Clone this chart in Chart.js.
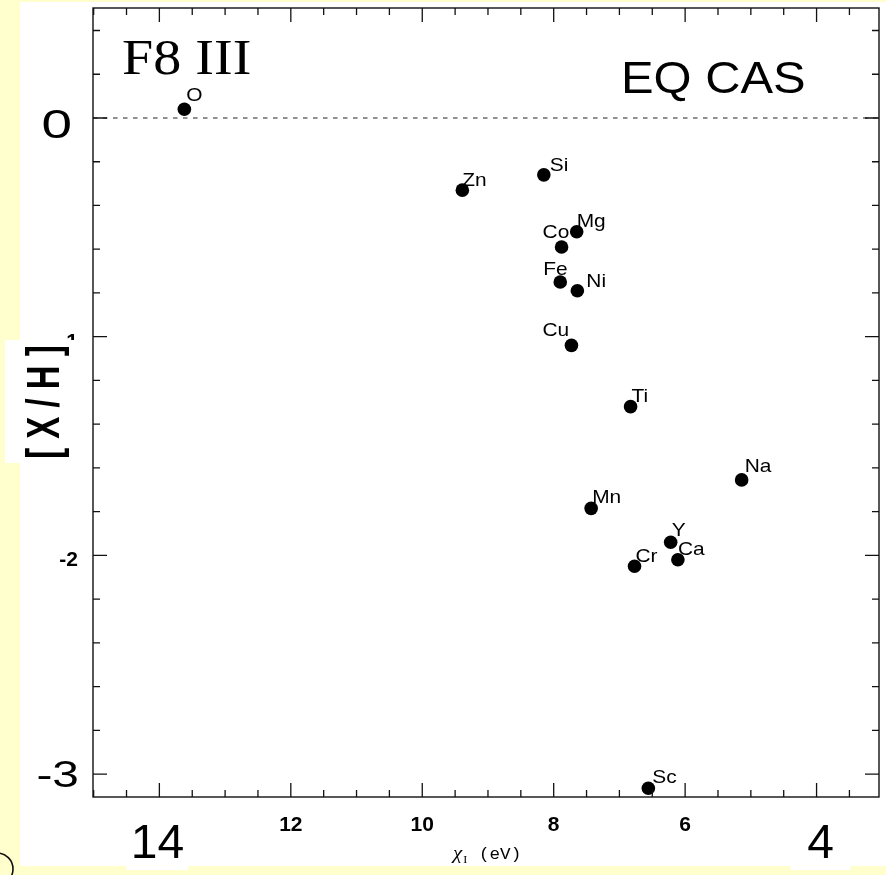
<!DOCTYPE html>
<html>
<head>
<meta charset="utf-8">
<title>EQ CAS abundances vs ionization potential</title>
<script src="https://cdn.jsdelivr.net/npm/chart.js@4.4.1/dist/chart.umd.min.js"></script>
<style>
  html, body { margin: 0; padding: 0; background: #ffffcd; }
  canvas { display: block; }
</style>
</head>
<body>
<canvas id="chart" width="886" height="875"></canvas>
<script>
// Element abundances [X/H] against first ionization potential (eV)
const elements   = ['O', 'Zn', 'Si', 'Mg', 'Co', 'Fe', 'Ni', 'Cu', 'Ti', 'Na', 'Mn', 'Y', 'Ca', 'Cr', 'Sc'];
const ionization = [13.62, 9.39, 8.15, 7.65, 7.88, 7.90, 7.64, 7.73, 6.83, 5.14, 7.43, 6.22, 6.11, 6.77, 6.56];
const abundance  = [0.04, -0.33, -0.26, -0.52, -0.59, -0.75, -0.79, -1.04, -1.32, -1.655, -1.785, -1.94, -2.02, -2.05, -3.065];

// Axis tick labels
const xTickValues = [14, 12, 10, 8, 6, 4];
const xTickLabels = ['14', '12', '10', '8', '6', '4'];
const yTickValues = [0, -1, -2, -3];
const yTickLabels = ['0', '-1', '-2', '-3'];

// Reference level
const solarLevel = 0;

// Titles
const starClass = 'F8 III';
const starName = 'EQ CAS';
const yTitle = '[ X / H ]';
const xTitleSymbol = 'χ';
const xTitleSub = 'I';
const xTitleUnit = '(eV)';

// ---- layout / style ----
const PAPER = '#ffffcd';
const INK = '#000000';
const labelOffsets = {            // text anchor relative to the marker centre
  O: [2, -8], Zn: [0, -4], Si: [6, -4], Mg: [0, -5], Co: [-19, -9], Fe: [-17, -7],
  Ni: [9, -4], Cu: [-29, -9], Ti: [1, -5], Na: [3, -8], Mn: [1, -5], Y: [1, -6],
  Ca: [0, -5], Cr: [1, -4], Sc: [4, -5]
};
const xTickStyleDefault = { size: 20, weight: 'bold', sx: 1.05, base: 34, dx: 0 };
const xTickStyle = {
  '14': { size: 48, weight: 'normal', sx: 1, base: 61, dx: -2, box: 62 },
  '4':  { size: 48, weight: 'normal', sx: 1, base: 61, dx: 4, box: 60 }
};
const yTickStyleDefault = { size: 20, weight: 'bold', sx: 1.05, gap: 15, dy: 11 };
const yTickStyle = {
  '0':  { size: 40, weight: 'normal', sx: 1.37, gap: 21, dy: 20 },
  '-3': { size: 36, weight: 'normal', sx: 1.33, gap: 14, dy: 13 }
};

const points = elements.map((e, i) => ({ x: ionization[i], y: abundance[i] }));

function drawText(ctx, text, x, y, font, align, sx) {
  ctx.save();
  ctx.font = font;
  ctx.textAlign = 'left';
  ctx.textBaseline = 'alphabetic';
  const w = ctx.measureText(text).width * sx;
  const left = align === 'center' ? x - w / 2 : (align === 'right' ? x - w : x);
  ctx.translate(left, y);
  ctx.scale(sx, 1);
  ctx.fillStyle = INK;
  ctx.fillText(text, 0, 0);
  ctx.restore();
  return w;
}

const decor = {
  id: 'decor',
  beforeDraw(chart) {
    const ctx = chart.ctx;
    const xs = chart.scales.x;
    ctx.save();
    ctx.fillStyle = PAPER;
    ctx.fillRect(0, 0, chart.width, chart.height);
    ctx.fillStyle = '#ffffff';
    ctx.fillRect(20, 2, chart.width - 20, 864);
    // white plates behind the large end labels of the x axis
    xTickValues.forEach((v, i) => {
      const st = xTickStyle[xTickLabels[i]];
      if (st && st.box) {
        const px = xs.getPixelForValue(v) + st.dx;
        ctx.fillRect(px - st.box / 2, 812, st.box, 58);
      }
    });
    // small ring in the lower-left corner
    ctx.strokeStyle = '#111';
    ctx.lineWidth = 1.6;
    ctx.beginPath();
    ctx.arc(-3, 869, 16, 0, Math.PI * 2);
    ctx.stroke();
    ctx.restore();
  },
  beforeDatasetsDraw(chart) {
    const ctx = chart.ctx;
    const meta = chart.getDatasetMeta(0);
    meta.data.forEach((pt, i) => {
      const off = labelOffsets[elements[i]] || [2, -5];
      drawText(ctx, elements[i], pt.x + off[0], pt.y + off[1], '19px "Liberation Sans", Arial, sans-serif', 'left', 1.1);
    });
  },
  afterDatasetsDraw(chart) {
    const ctx = chart.ctx;
    const a = chart.chartArea;
    const xs = chart.scales.x, ys = chart.scales.y;
    ctx.save();
    // frame
    ctx.strokeStyle = '#111';
    ctx.lineWidth = 1.4;
    ctx.strokeRect(a.left, a.top, a.right - a.left, a.bottom - a.top);
    // inward ticks, x: every 0.5 eV, long every 2 eV
    ctx.lineWidth = 1.3;
    ctx.beginPath();
    for (let k = Math.ceil(xs.min * 2); k <= Math.floor(xs.max * 2); k++) {
      const px = xs.getPixelForValue(k / 2);
      const len = (k % 4 === 0) ? 14 : 7;
      ctx.moveTo(px, a.bottom); ctx.lineTo(px, a.bottom - len);
      ctx.moveTo(px, a.top); ctx.lineTo(px, a.top + len);
    }
    // inward ticks, y: every 0.2, long every 1
    for (let k = Math.ceil(ys.min * 5); k <= Math.floor(ys.max * 5); k++) {
      const py = ys.getPixelForValue(k / 5);
      const len = (k % 5 === 0) ? 14 : 7;
      ctx.moveTo(a.left, py); ctx.lineTo(a.left + len, py);
      ctx.moveTo(a.right, py); ctx.lineTo(a.right - len, py);
    }
    ctx.stroke();
    ctx.restore();

    // x tick labels
    xTickValues.forEach((v, i) => {
      const st = Object.assign({}, xTickStyleDefault, xTickStyle[xTickLabels[i]] || {});
      const px = xs.getPixelForValue(v) + st.dx;
      drawText(ctx, xTickLabels[i], px, a.bottom + st.base,
        st.weight + ' ' + st.size + 'px "Liberation Sans", Arial, sans-serif', 'center', st.sx);
    });
    // y tick labels
    yTickValues.forEach((v, i) => {
      const st = Object.assign({}, yTickStyleDefault, yTickStyle[yTickLabels[i]] || {});
      const py = ys.getPixelForValue(v);
      drawText(ctx, yTickLabels[i], a.left - st.gap, py + st.dy,
        st.weight + ' ' + st.size + 'px "Liberation Sans", Arial, sans-serif', 'right', st.sx);
    });

    // y title on its own white plate
    ctx.save();
    ctx.fillStyle = '#ffffff';
    ctx.fillRect(5, 340, 78, 123);
    ctx.translate(59, 402);
    ctx.scale(1.42, 1);
    ctx.rotate(-Math.PI / 2);
    ctx.font = 'bold 33px "Liberation Sans", Arial, sans-serif';
    ctx.textAlign = 'center';
    ctx.textBaseline = 'alphabetic';
    ctx.fillStyle = INK;
    ctx.fillText(yTitle, 0, 0);
    ctx.restore();

    // x title: chi_I (eV)
    const xt = 453;
    const w1 = drawText(ctx, xTitleSymbol, xt, 859, 'italic 19px "Liberation Serif", "DejaVu Serif", serif', 'left', 1.1);
    drawText(ctx, xTitleSub, xt + w1 + 1, 863, '11px "Liberation Serif", "DejaVu Serif", serif', 'left', 1.1);
    drawText(ctx, xTitleUnit, 479, 859, '16px "Liberation Mono", "DejaVu Sans Mono", monospace', 'left', 1.1);

    // panel annotations
    drawText(ctx, starClass, 122, 74, '51px "Liberation Serif", "DejaVu Serif", serif', 'left', 1.1);
    drawText(ctx, starName, 621, 93, '44px "Liberation Sans", Arial, sans-serif', 'left', 1.11);
  }
};

new Chart(document.getElementById('chart'), {
  type: 'scatter',
  data: {
    datasets: [
      {
        label: '[X/H]',
        data: points,
        pointRadius: 6.8,
        pointHoverRadius: 6.8,
        backgroundColor: INK,
        borderColor: INK,
        borderWidth: 0
      },
      {
        type: 'line',
        label: 'solar',
        data: [{ x: 15.01, y: solarLevel }, { x: 3.05, y: solarLevel }],
        borderColor: '#222',
        borderWidth: 1.1,
        borderDash: [4.5, 5.5],
        pointRadius: 0,
        fill: false
      }
    ]
  },
  options: {
    responsive: false,
    animation: false,
    devicePixelRatio: 1,
    events: [],
    layout: { padding: { left: 93, top: 8, right: 7, bottom: 78 } },
    scales: {
      x: { type: 'linear', reverse: true, min: 3.05, max: 15.01, display: false },
      y: { type: 'linear', min: -3.105, max: 0.503, display: false }
    },
    plugins: { legend: { display: false }, tooltip: { enabled: false } }
  },
  plugins: [decor]
});
</script>
</body>
</html>
